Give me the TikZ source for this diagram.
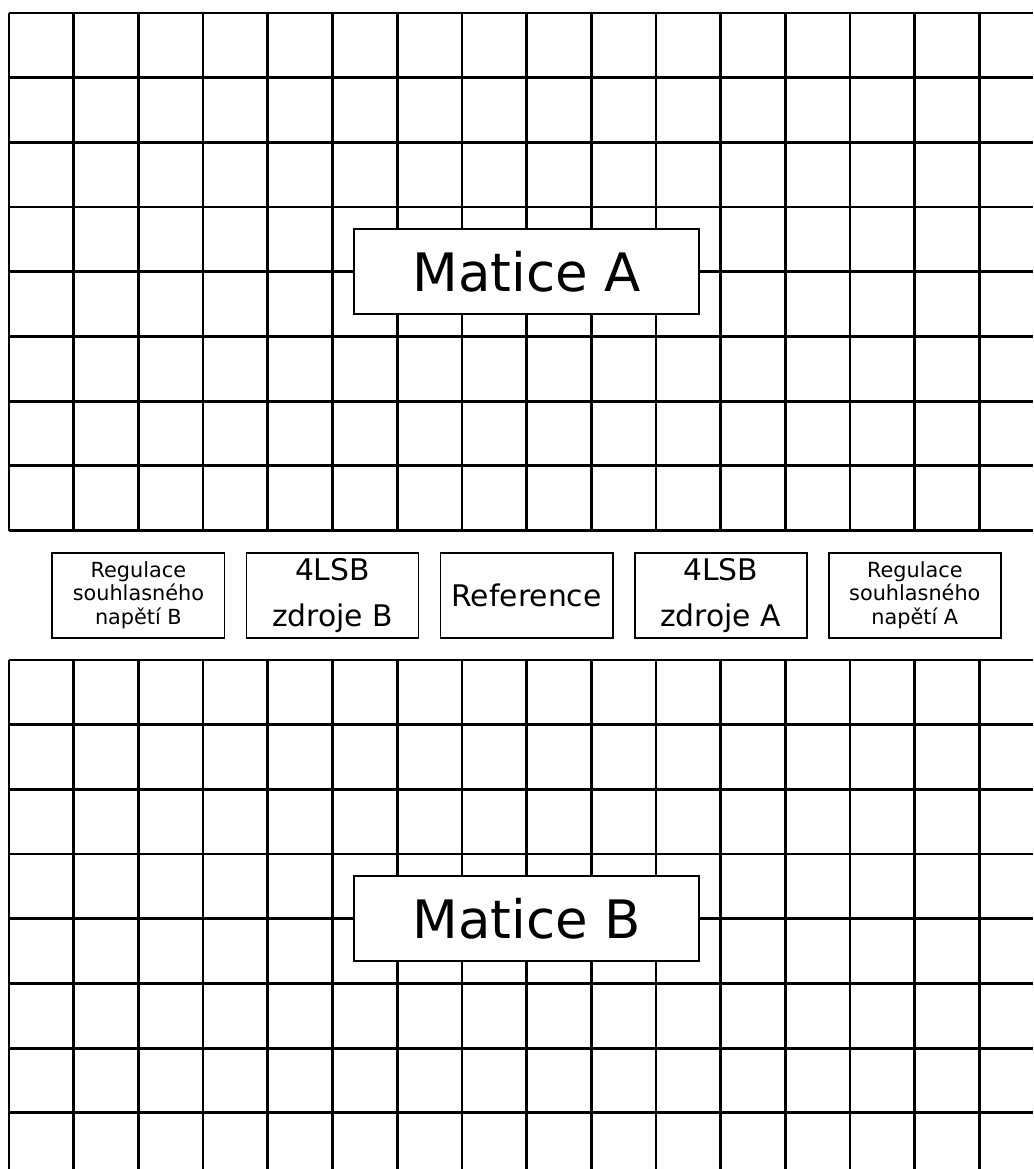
\documentclass[tikz,border=0pt]{standalone}
\usepackage{fontspec}
\setmainfont{DejaVu Sans}
\usetikzlibrary{positioning}
\tikzstyle{matgrid}    = [line width=1.2pt, draw=black]
\tikzstyle{matrixlbl}  = [rectangle, minimum width=5.33cm, minimum height=1.31cm, text centered, draw=black, line width=0.8pt, fill=white, font=\fontsize{23.3}{27}\selectfont]
\tikzstyle{block}      = [rectangle, minimum width=2.66cm, minimum height=1.31cm, align=center, inner sep=0pt, draw=black, line width=0.8pt, fill=white, font=\fontsize{13.1}{20.3}\selectfont]
\tikzstyle{smallblock} = [block, font=\fontsize{9.15}{10.4}\selectfont]

\begin{document}
\begin{tikzpicture}[node distance=3cm]

\useasboundingbox (-0.139,0.2) rectangle (15.827,-17.868);

% matrix A
\draw [matgrid] (0,-8) grid (15.827,0);
% matrix B
\draw [matgrid] (0,-17.868) grid (15.827,-10);

\node (matA) [matrixlbl] at (8,-4)  {Matice A};
\node (matB) [matrixlbl] at (8,-14) {Matice B};

\node (ref)   [block]                    at (8,-9) {Reference};
\node (lsbB)  [block,      left of=ref]            {4LSB\\zdroje B};
\node (regB)  [smallblock, left of=lsbB]           {Regulace\\souhlasného\\napětí B};
\node (lsbA)  [block,      right of=ref]           {4LSB\\zdroje A};
\node (regA)  [smallblock, right of=lsbA]          {Regulace\\souhlasného\\napětí A};

\end{tikzpicture}
\end{document}
